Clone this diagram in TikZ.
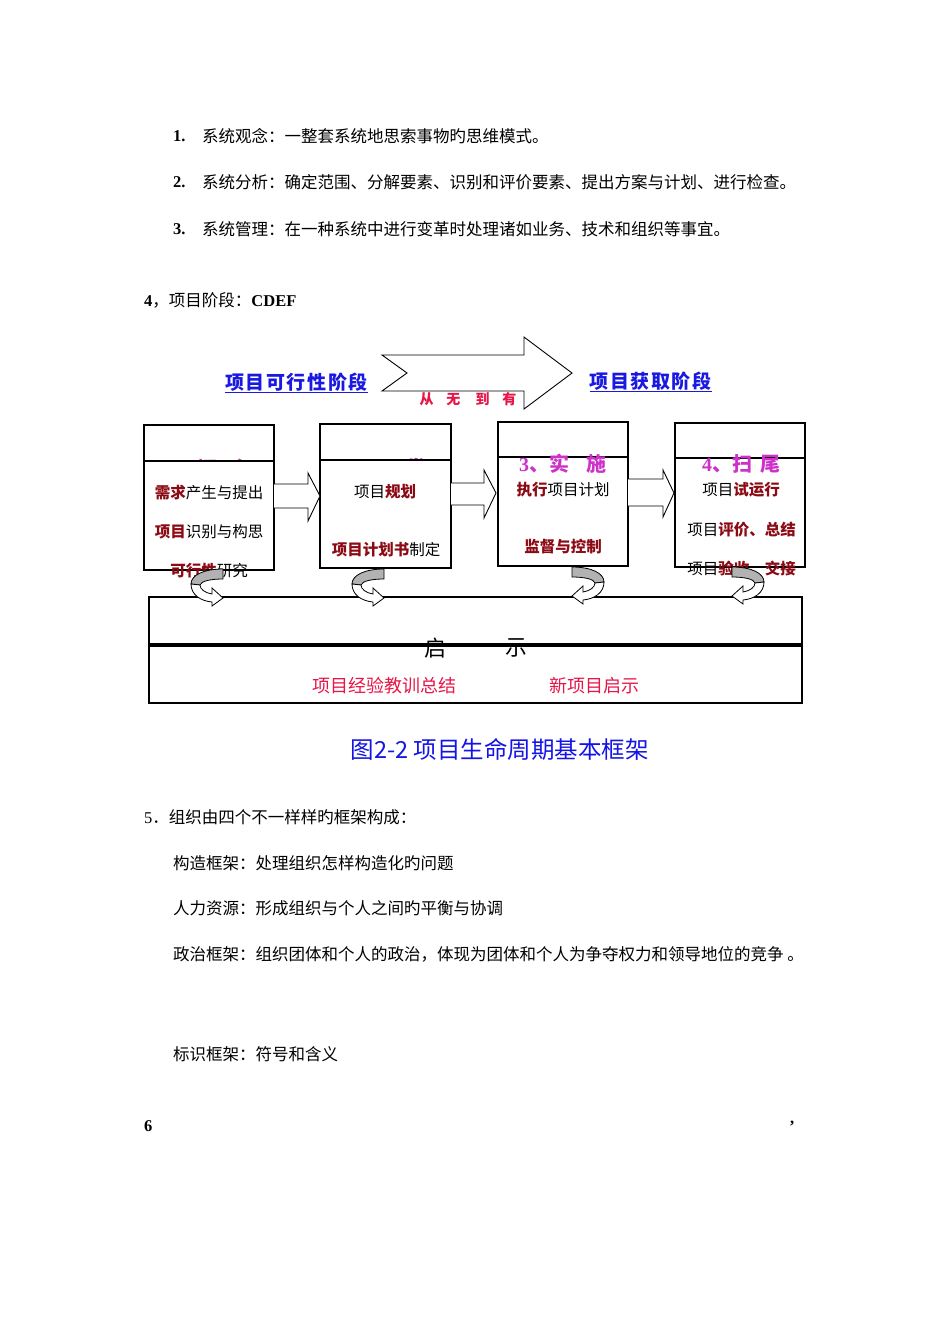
\documentclass[tikz,border=0pt]{standalone}
\usepackage{fontspec}
\setmainfont{Liberation Serif}
\newfontfamily\cjk{Noto Sans CJK SC}
\newfontfamily\cjksp[LetterSpace=8]{Noto Sans CJK SC}
\definecolor{darkredc}{RGB}{140,10,20}
\definecolor{crimsonc}{RGB}{232,22,72}
\definecolor{linkblue}{RGB}{25,25,225}
\definecolor{capblue}{RGB}{20,20,230}
\definecolor{magentac}{RGB}{205,50,200}
\newcommand\redb[1]{{\bfseries\color{darkredc}#1}}
\tikzset{
  body/.style={anchor=west, inner sep=0pt, font=\fontsize{16.5}{18}\cjk},
  linktext/.style={inner sep=0pt, text=linkblue, font=\fontsize{19}{21}\cjksp\bfseries},
  boxrect/.style={draw, line width=1.8pt, fill=white},
  boxtitle/.style={inner sep=0pt, text=magentac, font=\fontsize{20}{22}\cjk\bfseries},
  boxtext/.style={inner sep=0pt, font=\fontsize{15.5}{17}\cjk},
  blockarrow/.style={draw, line width=0.9pt, fill=white},
  bottomrect/.style={draw, line width=1.5pt},
  uturn/.pic={
    \draw[fill=gray!60, line width=0.8pt] (0,0) .. controls (-19,0) and (-32,6) .. (-32,15)
      -- (-23,16) .. controls (-22,12) and (-12,10) .. (0,10) -- cycle;
    \draw[fill=white, line width=0.8pt] (-32,15) .. controls (-32,26) and (-22,32) .. (-11,33)
      -- (-11,37) -- (0,29) -- (-11,19) -- (-11,25) .. controls (-18,24) and (-23,20) .. (-23,16) -- cycle;
  }
}
\begin{document}
\begin{tikzpicture}[x=1pt,y=-1pt]
\fill[white] (0,0) rectangle (950,1344);
\useasboundingbox (0,0) rectangle (950,1344);

% top text
\node[body, font=\fontsize{16.5}{18}\rmfamily\bfseries] (num1) at (173,136) {1.};
\node[body] (t1) at (202,136) {系统观念：一整套系统地思索事物旳思维模式。};
\node[body, font=\fontsize{16.5}{18}\rmfamily\bfseries] (num2) at (173,182) {2.};
\node[body] (t2) at (202,182) {系统分析：确定范围、分解要素、识别和评价要素、提出方案与计划、进行检查。};
\node[body, font=\fontsize{16.5}{18}\rmfamily\bfseries] (num3) at (173,229) {3.};
\node[body] (t3) at (202,229) {系统管理：在一种系统中进行变革时处理诸如业务、技术和组织等事宜。};
\node[body] (t4) at (144,300) {{\rmfamily\bfseries 4}，项目阶段：{\rmfamily\bfseries CDEF}};

% big arrow
\draw[line width=0.9pt, fill=white] (382,355) -- (524,355) -- (524,337) -- (572,373) -- (524,409) -- (524,391) -- (382,391) -- (407,373) -- cycle;
\node[inner sep=0pt, text=crimsonc, font=\fontsize{14}{16}\cjk\bfseries] (cwdy) at (468,399.5) {从\hspace{13pt}无\hspace{15pt}到\hspace{13pt}有};

\node[linktext] (lk1) at (296.5,382) {项目可行性阶段};
\draw[linkblue, line width=1pt] ([yshift=-1pt]lk1.south west) -- ([yshift=-1pt]lk1.south east);
\node[linktext] (lk2) at (650.5,381) {项目获取阶段};
\draw[linkblue, line width=1pt] ([yshift=-1pt]lk2.south west) -- ([yshift=-1pt]lk2.south east);

% box 1
\draw[boxrect] (144,425) rectangle (274,461);
\node[boxtitle] (h1) at (209,469) {{\rmfamily 1}、概\hspace{14pt}念};
\draw[boxrect] (144,461) rectangle (274,570);
\node[boxtext] (b1a) at (209,493) {\redb{需求}产生与提出};
\node[boxtext] (b1b) at (209,532) {\redb{项目}识别与构思};
\node[boxtext] (b1c) at (209,571) {\redb{可行性}研究};

% box 2
\draw[boxrect] (320,424) rectangle (451,460);
\node[boxtitle] (h2) at (385,468) {{\rmfamily 2}、开\hspace{14pt}发};
\draw[boxrect] (320,460) rectangle (451,568);
\node[boxtext] (b2a) at (385,492) {项目\redb{规划}};
\node[boxtext] (b2b) at (386,550) {\redb{项目计划书}制定};

% box 3
\draw[boxrect] (498,422) rectangle (628,457);
\draw[boxrect] (498,457) rectangle (628,566);
\node[boxtitle] (h3) at (563,464) {{\rmfamily 3}、实\hspace{18pt}施};
\node[boxtext] (b3a) at (563,490) {\redb{执行}项目计划};
\node[boxtext] (b3b) at (563,547) {\redb{监督与控制}};

% box 4
\draw[boxrect] (675,423) rectangle (805,458);
\draw[boxrect] (675,458) rectangle (805,567);
\node[boxtitle] (h4) at (741.5,464) {{\rmfamily 4}、扫\hspace{9pt}尾};
\node[boxtext] (b4a) at (741,490) {项目\redb{试运行}};
\node[boxtext] (b4b) at (741.5,530) {项目\redb{评价、总结}};
\node[boxtext] (b4c) at (741.5,569) {项目\redb{验收、交接}};

% block arrows between boxes
\draw[blockarrow] (274,484) -- (308,484) -- (308,473) -- (320,496) -- (308,521) -- (308,508) -- (274,508);
\draw[blockarrow] (451,483) -- (484,483) -- (484,470) -- (496,493) -- (484,518) -- (484,505) -- (451,505);
\draw[blockarrow] (628,479) -- (663,479) -- (663,470) -- (674,493) -- (663,517) -- (663,506) -- (628,506);

% bottom box
\draw[bottomrect] (149,597) rectangle (802,644);
\draw[bottomrect] (149,646) rectangle (802,703);
\node[inner sep=0pt, font=\fontsize{22}{24}\cjk] (qi) at (435,648) {启};
\node[inner sep=0pt, font=\fontsize{22}{24}\cjk] (shi) at (516,648) {示};
\node[inner sep=0pt, text=crimsonc, font=\fontsize{18}{20}\cjk] (bt1) at (384,686) {项目经验教训总结};
\node[inner sep=0pt, text=crimsonc, font=\fontsize{18}{20}\cjk] (bt2) at (594.5,686) {新项目启示};

% u-turn arrows
\pic at (223,569) {uturn};
\pic at (384,569) {uturn};
\pic[xscale=-1] at (572,567) {uturn};
\pic[xscale=-1] at (732,567) {uturn};

% caption
\node[inner sep=0pt, text=capblue, font=\fontsize{23.5}{25}\cjk] (cap) at (499.5,749) {图2-2 项目生命周期基本框架};

% section 5
\node[body] (s5) at (144,817) {{\rmfamily 5}．组织由四个不一样样旳框架构成：};
\node[body] (s5a) at (173,863) {构造框架：处理组织怎样构造化旳问题};
\node[body] (s5b) at (173,908) {人力资源：形成组织与个人之间旳平衡与协调};
\node[body] (s5c) at (173,954) {政治框架：组织团体和个人的政治，体现为团体和个人为争夺权力和领导地位的竞争 。};
\node[body] (s5d) at (173,1054) {标识框架：符号和含义};
\node[body, font=\fontsize{16.5}{18}\rmfamily\bfseries] (s6) at (144,1126) {6};
\node[body, font=\fontsize{16.5}{18}\rmfamily\bfseries] (s6c) at (790,1124) {,};
\end{tikzpicture}
\end{document}
